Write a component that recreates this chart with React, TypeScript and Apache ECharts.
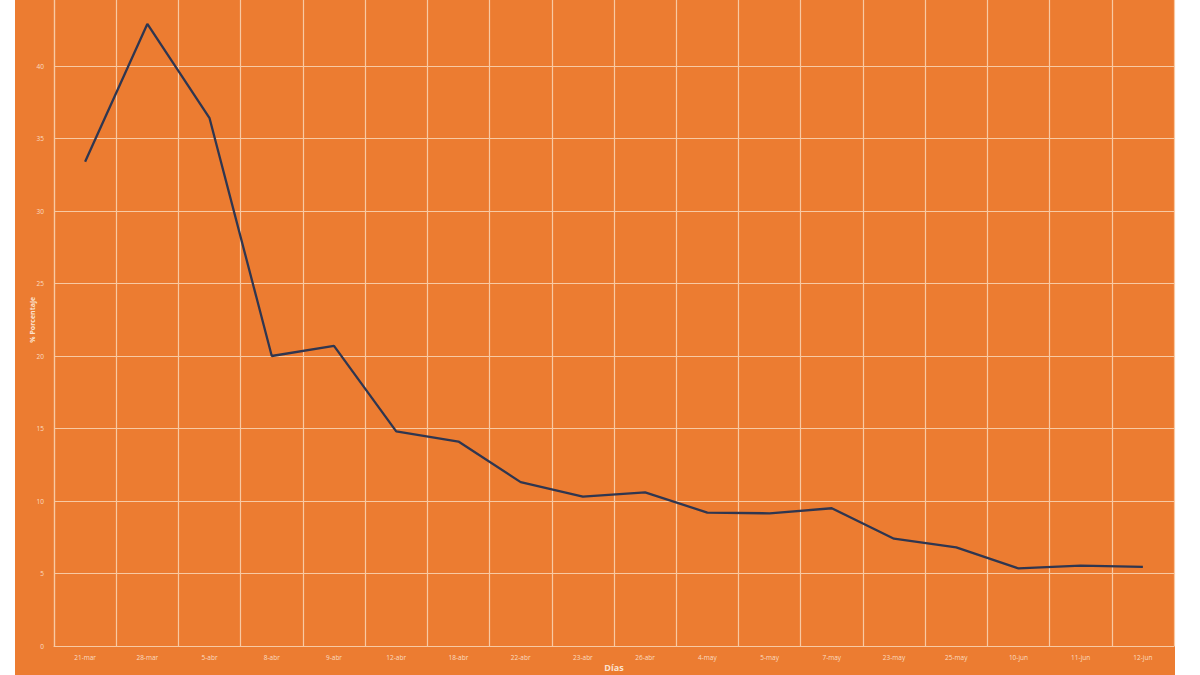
import React, { useEffect, useRef } from "react";
import * as echarts from "echarts";

const categories = [
  "21-mar", "28-mar", "5-abr", "8-abr", "9-abr", "12-abr", "18-abr", "22-abr", "23-abr",
  "26-abr", "4-may", "5-may", "7-may", "23-may", "25-may", "10-jun", "11-jun", "12-jun",
];
const porcentaje = [
  33.4, 42.9, 36.4, 20.0, 20.7, 14.8, 14.1, 11.3, 10.3,
  10.6, 9.2, 9.15, 9.5, 7.4, 6.8, 5.35, 5.55, 5.45,
];
const yTicks = { min: 0, max: 45, interval: 5 };

export default function App() {
  const ref = useRef<HTMLDivElement>(null);
  useEffect(() => {
    if (!ref.current) return;
    const chart = echarts.init(ref.current, null, { renderer: "svg" });
    const font = "'Open Sans', 'Noto Sans', sans-serif";
    chart.setOption({
      animation: false,
      backgroundColor: "#ffffff",
      textStyle: { fontFamily: font },
      graphic: [
        {
          type: "rect",
          z: -10,
          silent: true,
          shape: { x: 15, y: 0, width: 1160, height: 675 },
          style: { fill: "#EC7C31" },
        },
      ],
      grid: {
        left: 54,
        right: 26,
        top: -6.5,
        bottom: 29,
        containLabel: false,
        outerBoundsMode: "none",
      },
      xAxis: {
        type: "category",
        data: categories,
        boundaryGap: true,
        name: "Días",
        nameLocation: "middle",
        nameGap: 17,
        nameMoveOverlap: false,
        nameTextStyle: { color: "#FBE3D0", fontSize: 9, fontWeight: "bold", fontFamily: font },
        axisLine: { show: true, lineStyle: { color: "#F8C9A2", width: 1.2 } },
        axisTick: { show: false },
        axisLabel: { color: "#FADCC4", fontSize: 6.5, margin: 8, interval: 0 },
        splitLine: { show: true, lineStyle: { color: "#F8C9A2", width: 1.2 } },
      },
      yAxis: {
        type: "value",
        min: yTicks.min,
        max: yTicks.max,
        interval: yTicks.interval,
        name: "% Porcentaje",
        nameLocation: "middle",
        nameGap: 18,
        nameMoveOverlap: false,
        nameRotate: 90,
        nameTextStyle: { color: "#FBE3D0", fontSize: 7, fontWeight: "bold", fontFamily: font },
        axisLine: { show: true, lineStyle: { color: "#F8C9A2", width: 1.2 } },
        axisTick: { show: false },
        axisLabel: { color: "#FADCC4", fontSize: 6.5, margin: 10, showMaxLabel: false },
        splitLine: { show: true, lineStyle: { color: "#F8C9A2", width: 1.2 } },
      },
      series: [
        {
          type: "line",
          data: porcentaje,
          symbol: "none",
          lineStyle: { color: "#2F3650", width: 2.3 },
        },
      ],
    });
    return () => chart.dispose();
  }, []);
  return (
    <div
      ref={ref}
      style={{ position: "fixed", left: 0, top: 0, width: 1200, height: 675 }}
    />
  );
}
